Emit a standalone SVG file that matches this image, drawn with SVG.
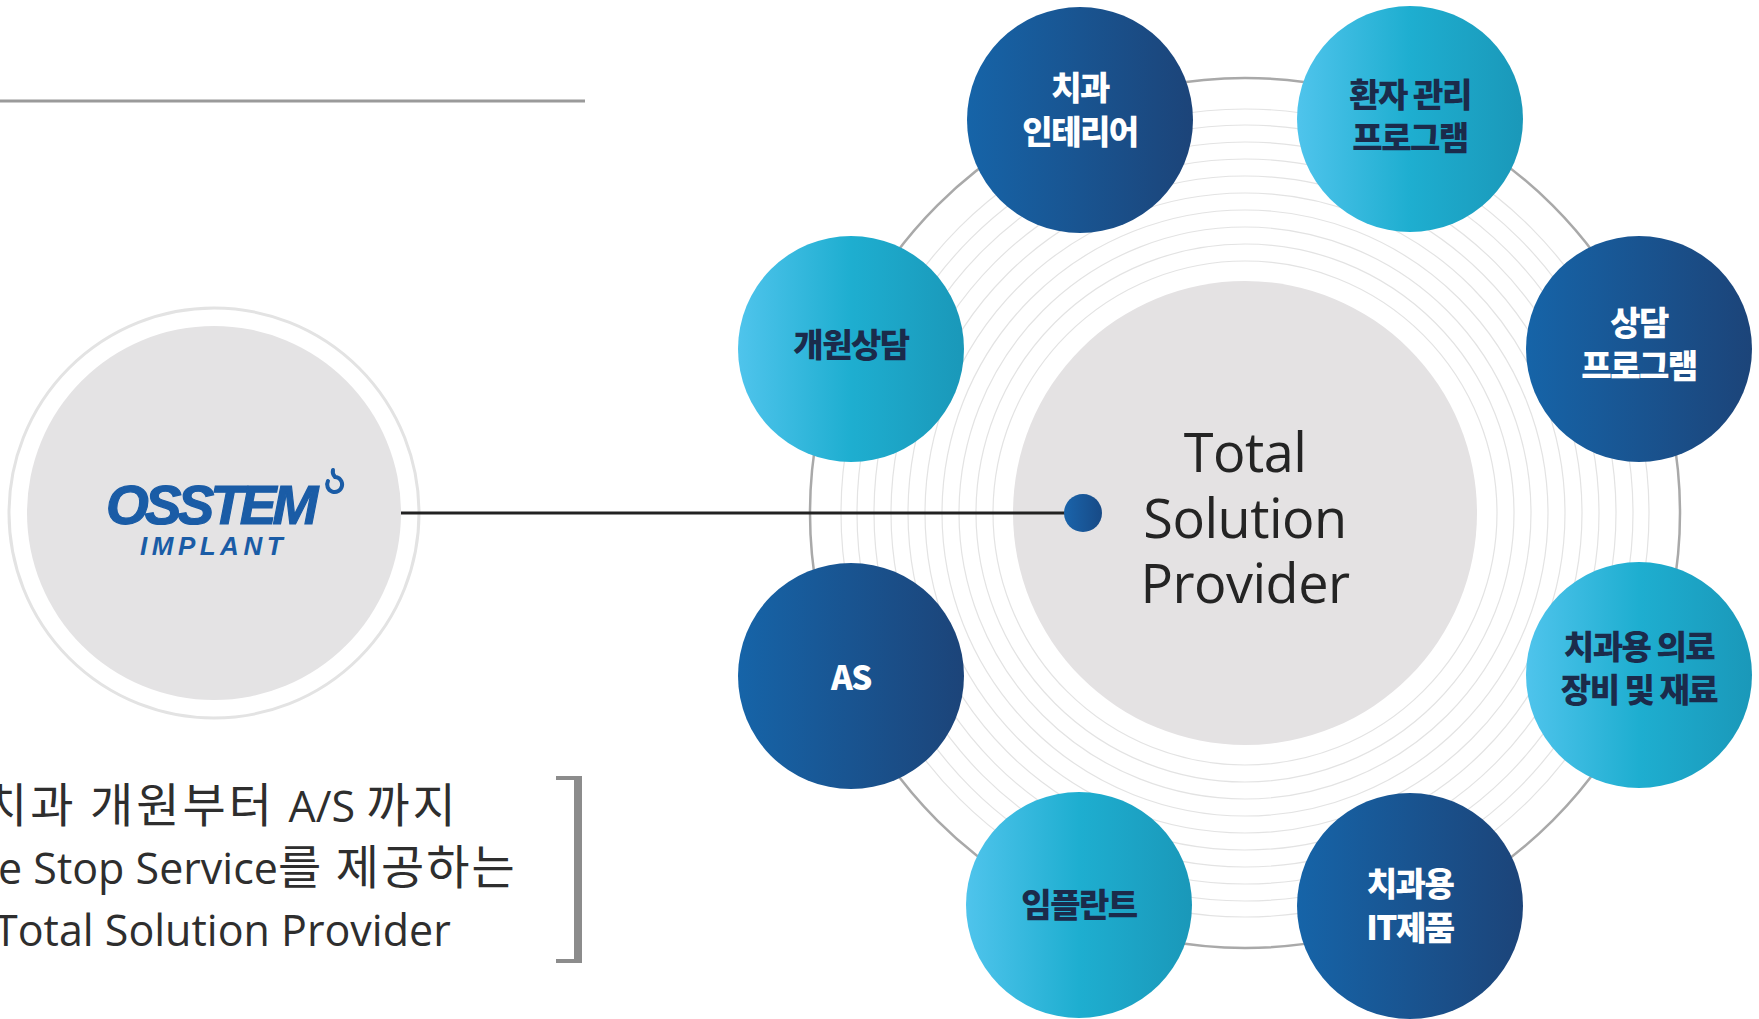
<svg xmlns="http://www.w3.org/2000/svg" width="1759" height="1019" viewBox="0 0 1759 1019">
  <defs>
    <linearGradient id="gDark" x1="0" y1="0" x2="1" y2="0">
      <stop offset="0" stop-color="#1664a8"/>
      <stop offset="1" stop-color="#1c4479"/>
    </linearGradient>
    <linearGradient id="gLight" x1="0" y1="0" x2="1" y2="0">
      <stop offset="0" stop-color="#4fc4ec"/>
      <stop offset="0.5" stop-color="#1eaed0"/>
      <stop offset="1" stop-color="#1a98b9"/>
    </linearGradient>
    <linearGradient id="gDot" x1="0" y1="0" x2="1" y2="0">
      <stop offset="0" stop-color="#1a64ab"/>
      <stop offset="1" stop-color="#174a86"/>
    </linearGradient>
  </defs>
  <style>
    .ring { fill: none; stroke: #e3e3e3; stroke-width: 1.2; }
    .dark { fill: url(#gDark); }
    .light { fill: url(#gLight); }
    .lbl { font-family: "Noto Sans CJK KR", "Noto Sans", sans-serif; font-weight: 900; font-size: 33px; letter-spacing: -1.5px; text-anchor: middle; }
    .lblD { fill: #ffffff; }
    .lblL { fill: #1b2b4b; }
    .center { font-family: "Open Sans", "Noto Sans", sans-serif; font-size: 54px; fill: #242424; text-anchor: middle; letter-spacing: -0.5px; }
    .desc { font-family: "Open Sans", "Noto Sans CJK KR", sans-serif; font-size: 43px; fill: #2e2e2e; }
    .ko { font-family: "Noto Sans CJK KR", sans-serif; font-size: 47px; letter-spacing: 2px; }
    .ko3 { letter-spacing: 3px; }
    .logo { font-family: "Liberation Sans", Arial, sans-serif; font-weight: 700; font-style: italic; fill: #1a5ca6; }
  </style>
  <rect x="0" y="0" width="1759" height="1019" fill="#ffffff"/>

  <!-- top-left rule -->
  <line x1="0" y1="101" x2="585" y2="101" stroke="#9a9a9a" stroke-width="3"/>

  <!-- rings background -->
  <g id="ring-system">
    <circle cx="1245" cy="513" r="435" fill="none" stroke="#a9a9a9" stroke-width="2.5"/>
    <circle class="ring" cx="1245" cy="513" r="252"/>
    <circle class="ring" cx="1245" cy="513" r="269"/>
    <circle class="ring" cx="1245" cy="513" r="286"/>
    <circle class="ring" cx="1245" cy="513" r="303"/>
    <circle class="ring" cx="1245" cy="513" r="320"/>
    <circle class="ring" cx="1245" cy="513" r="337"/>
    <circle class="ring" cx="1245" cy="513" r="354"/>
    <circle class="ring" cx="1245" cy="513" r="371"/>
    <circle class="ring" cx="1245" cy="513" r="388"/>
    <circle class="ring" cx="1245" cy="513" r="404"/>
  </g>

  <!-- left OSSTEM node -->
  <g id="node-osstem">
    <circle cx="214" cy="513" r="205" fill="#ffffff" stroke="#e3e3e3" stroke-width="3"/>
    <circle cx="214" cy="513" r="187" fill="#e4e3e4"/>
    <text class="logo" x="106" y="524" font-size="55" letter-spacing="-4" stroke="#1a5ca6" stroke-width="1.2">OSSTEM</text>
    <text class="logo" x="140" y="555" font-size="26" letter-spacing="4.5">IMPLANT</text>
    <path d="M328,481 a7.5,7.5 0 1,0 7,-4 q-3,-3 -2,-7" fill="none" stroke="#1a5ca6" stroke-width="4" stroke-linecap="round"/>
  </g>

  <!-- center node -->
  <g id="node-center">
    <circle cx="1245" cy="513" r="232" fill="#e4e2e3"/>
    <text class="center" x="1245" y="472">Total</text>
    <text class="center" x="1245" y="538">Solution</text>
    <text class="center" x="1245" y="603">Provider</text>
  </g>

  <!-- connectors -->
  <g id="connectors">
    <line x1="401" y1="513" x2="1070" y2="513" stroke="#222222" stroke-width="3"/>
    <circle cx="1083" cy="513" r="19" fill="url(#gDot)"/>
  </g>

  <!-- satellites -->
  <g id="node-interior">
    <circle class="dark" cx="1080" cy="120" r="113"/>
    <text class="lbl lblD" x="1080" y="100">치과</text>
    <text class="lbl lblD" x="1080" y="144">인테리어</text>
  </g>
  <g id="node-patient-program">
    <circle class="light" cx="1410" cy="119" r="113"/>
    <text class="lbl lblL" x="1410" y="107">환자 관리</text>
    <text class="lbl lblL" x="1410" y="150">프로그램</text>
  </g>
  <g id="node-consult-program">
    <circle class="dark" cx="1639" cy="349" r="113"/>
    <text class="lbl lblD" x="1639" y="335">상담</text>
    <text class="lbl lblD" x="1639" y="378">프로그램</text>
  </g>
  <g id="node-equipment">
    <circle class="light" cx="1639" cy="675" r="113"/>
    <text class="lbl lblL" x="1639" y="659">치과용 의료</text>
    <text class="lbl lblL" x="1639" y="702">장비 및 재료</text>
  </g>
  <g id="node-it">
    <circle class="dark" cx="1410" cy="906" r="113"/>
    <text class="lbl lblD" x="1410" y="896">치과용</text>
    <text class="lbl lblD" x="1410" y="940">IT제품</text>
  </g>
  <g id="node-implant">
    <circle class="light" cx="1079" cy="905" r="113"/>
    <text class="lbl lblL" x="1079" y="917">임플란트</text>
  </g>
  <g id="node-as">
    <circle class="dark" cx="851" cy="676" r="113"/>
    <text class="lbl lblD" x="851" y="690">AS</text>
  </g>
  <g id="node-opening">
    <circle class="light" cx="851" cy="349" r="113"/>
    <text class="lbl lblL" x="851" y="357">개원상담</text>
  </g>

  <!-- description -->
  <g id="description">
    <text class="desc" x="-16" y="822"><tspan class="ko ko3">치과 개원부터 </tspan>A/S <tspan class="ko ko3">까지</tspan></text>
    <text class="desc" x="-2" y="884">e Stop Service<tspan class="ko">를 제공하는</tspan></text>
    <text class="desc" x="-6" y="946">Total Solution Provider</text>
    <rect x="574" y="776" width="8" height="187" fill="#8c8c8c"/>
    <rect x="556" y="776" width="26" height="4" fill="#8c8c8c"/>
    <rect x="556" y="959" width="26" height="4" fill="#8c8c8c"/>
  </g>
</svg>
